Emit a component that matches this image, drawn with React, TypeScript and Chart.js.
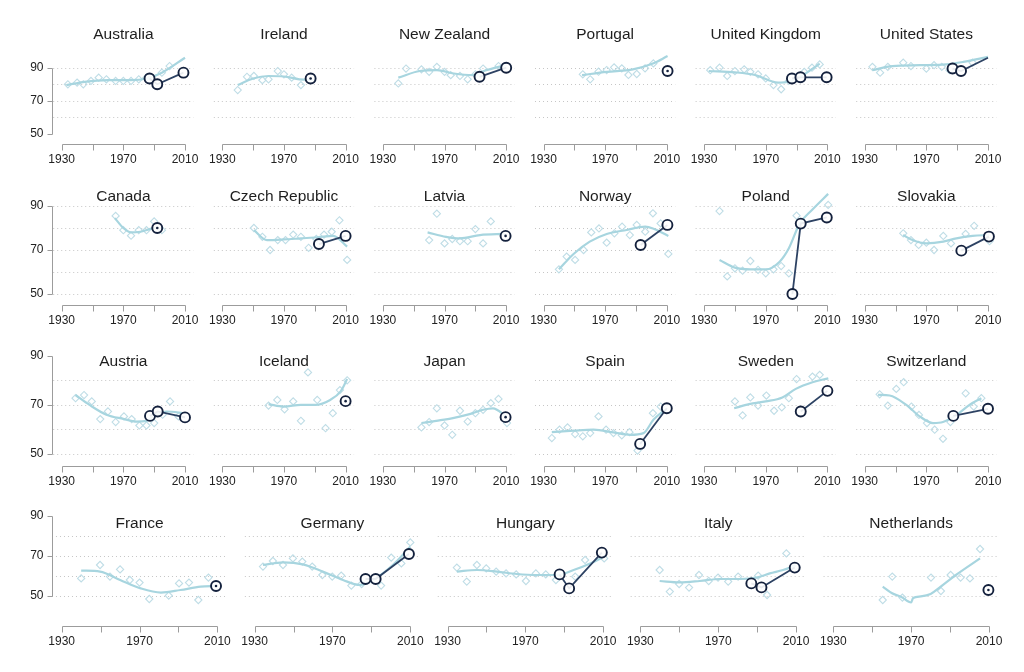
import React, { useEffect, useRef } from "react";
import { Chart, registerables } from "chart.js";
Chart.register(...registerables);

type P = [number, number];

const COUNTRIES: string[] = [
  "Australia", "Ireland", "New Zealand", "Portugal", "United Kingdom", "United States",
  "Canada", "Czech Republic", "Latvia", "Norway", "Poland", "Slovakia",
  "Austria", "Iceland", "Japan", "Spain", "Sweden", "Switzerland",
  "France", "Germany", "Hungary", "Italy", "Netherlands",
];

const ROW_SIZES = [6, 6, 6, 5];
const X_TICKS = [1930, 1950, 1970, 1990, 2010];
const X_LABELS = [1930, 1970, 2010];
const Y_TICKS = [50, 70, 90];
const GRID_ROWS: number[][] = [
  [60, 70, 80, 90],
  [50, 60, 70, 80, 90],
  [50, 60, 70, 80],
  [50, 60, 70, 80],
];

// observed yearly scores (hollow diamonds)
const DIAMONDS: P[][] = [
  [[1934, 80], [1940, 81], [1944, 80], [1949, 82], [1954, 84], [1959, 83], [1965, 82], [1970, 82], [1975, 82], [1980, 83], [1985, 84], [1995, 87], [2000, 91], [2005, 94], [2010, 97]],
  [[1940, 76.5], [1946, 84.5], [1950.5, 85], [1956, 82.5], [1960, 83], [1966, 88], [1970, 86], [1975, 84], [1981, 79.5]],
  [[1940, 80.5], [1945, 89.5], [1955, 89], [1960, 87.5], [1965, 90.5], [1970, 87.5], [1974, 85.5], [1980, 85], [1985, 83], [1990, 86], [1995, 89.5], [2000, 95.5], [2005, 91]],
  [[1955.5, 86], [1960.3, 83], [1965.7, 87.6], [1971, 88.6], [1975.8, 90.2], [1980.8, 89.6], [1985.1, 85.6], [1990.5, 86.2], [1995.9, 89.6], [2001.3, 92.6], [2006.8, 95], [2010.5, 97.6]],
  [[1934, 88.5], [1940, 90], [1945, 85], [1950, 88], [1956, 89], [1960, 87.5], [1965, 86], [1970, 83.5], [1975, 79.5], [1980, 77], [1985, 82], [1995, 87.5], [2000, 90], [2005, 92]],
  [[1935, 90.5], [1940, 87], [1945, 90.5], [1950, 93.5], [1955, 93], [1960, 91], [1965, 93.5], [1970, 89.5], [1975, 91.5], [1980, 90.5], [1985, 88.5], [1995, 95], [2000, 93], [2005, 95]],
  [[1965, 85.5], [1970, 79], [1975, 76.5], [1980, 79], [1985, 79], [1990, 83], [1995, 79]],
  [[1950.5, 80], [1956, 76], [1961, 70], [1966, 74.5], [1971, 74.5], [1976, 77], [1981, 76], [1986, 71], [1991, 75], [1996, 77], [2001, 78.3], [2006, 83.5], [2011, 65.5]],
  [[1960, 74.5], [1965, 86.5], [1970, 73], [1975, 75], [1980, 74], [1985, 74], [1990, 79.5], [1995, 73], [2000, 83]],
  [[1940, 61.2], [1945, 67], [1950.5, 65.5], [1956, 70], [1961, 78], [1966, 79.8], [1971, 73.3], [1976, 77.6], [1981, 80.6], [1986, 76.8], [1990.5, 81.4], [1996, 78.3], [2001, 86.7], [2006, 82.1], [2011, 68.2]],
  [[1940, 87.7], [1945, 58], [1950, 61.7], [1955, 60.6], [1960, 65], [1965, 61], [1970, 59.4], [1975, 61.2], [1980, 62.7], [1985, 59.4], [1990, 85.6], [2005, 92.4], [2010.5, 90.5]],
  [[1955, 77.6], [1960, 74.5], [1965, 72.3], [1970, 73.3], [1975, 70], [1981, 76.4], [1986, 73], [1995.5, 77.3], [2001, 81], [2011, 74]],
  [[1939, 72.7], [1944.5, 74], [1949.5, 71.4], [1955, 64.2], [1960, 67.3], [1965, 63], [1970.4, 65.3], [1975.4, 64.2], [1980.4, 61.6], [1985, 61.6], [1990, 62.6], [1995.5, 66], [2000.3, 71.4], [2005.7, 65.3]],
  [[1960, 69.7], [1965.7, 72], [1970.4, 68.2], [1976, 71.4], [1981, 63.5], [1985.6, 83.2], [1991.6, 72], [1997, 60.5], [2001.7, 66.6], [2006.3, 76], [2011, 80]],
  [[1955, 60.8], [1960, 63], [1965, 68.6], [1970, 61.6], [1975, 57.8], [1980, 67.6], [1985, 63.2], [1990, 66.6], [1995, 68], [2000, 70.7], [2005, 72.4], [2010.5, 62.6]],
  [[1935.4, 56.5], [1940.4, 59.9], [1945.6, 60.8], [1950.5, 58.1], [1955.5, 57.2], [1960.3, 58.5], [1965.7, 65.3], [1970.6, 59.9], [1975.4, 58.5], [1980.8, 57.6], [1985.8, 58.9], [1991, 51.4], [2001, 66.6], [2006, 69.3]],
  [[1950, 71.4], [1955, 65.7], [1960, 73], [1965, 69.7], [1970.4, 73.8], [1975.4, 67.6], [1980.4, 69], [1985, 72.7], [1990, 80.5], [2000.3, 81.5], [2005, 82.2]],
  [[1939.7, 74.3], [1945, 69.7], [1950.5, 76.5], [1955.3, 79.2], [1960.3, 69.3], [1965.2, 65.9], [1970.4, 62.6], [1975.4, 59.9], [1980.8, 56.2], [1985.6, 63], [1995.5, 74.7], [2000.7, 69.3], [2005.7, 72.7]],
  [[1940, 58.8], [1949.7, 65.5], [1954.8, 59.7], [1960, 63.3], [1965, 58], [1970, 56.7], [1975, 48.5], [1980, 47.2], [1985, 50.2], [1990.3, 56.3], [1995.4, 56.7], [2000.2, 48], [2005.4, 59.2]],
  [[1934.3, 64.7], [1939.4, 67.5], [1944.6, 65.5], [1949.7, 68.8], [1954.5, 67.2], [1959.6, 64.7], [1964.8, 60.5], [1969.9, 59.7], [1974.5, 60.2], [1979.7, 55.2], [1985, 56], [1995, 55.2], [2000.2, 69.2], [2005.4, 66.3], [2010, 76.8]],
  [[1934.8, 64.2], [1939.9, 57.2], [1945.1, 65.5], [1949.9, 63.8], [1955, 62.2], [1960.1, 61.3], [1965.3, 60.8], [1970.3, 57.5], [1975.4, 61.3], [1980.5, 60.8], [1985.7, 58], [1995.6, 59.7], [2000.7, 68], [2010.5, 68.8]],
  [[1939.9, 63], [1945.1, 52.2], [1949.9, 56], [1955, 54.2], [1960.1, 60.5], [1965.1, 57.5], [1969.9, 59.2], [1975.1, 57.2], [1980.2, 59.7], [1990.5, 60.2], [1995.1, 50.5], [2005, 71.3], [2009.8, 64.7]],
  [[1955.4, 48], [1960.3, 59.7], [1965.5, 49.2], [1970.3, 40.5], [1975.4, 40.5], [1980.2, 59.2], [1985.3, 52.5], [1990.3, 60.5], [1995.4, 59.2], [2000.2, 58.8], [2005.4, 73.5]],
];

// smoothed trend (light line)
const LOESS: P[][] = [
  [[1933, 79.5], [1945, 81.5], [1960, 82.5], [1975, 82.5], [1985, 83.5], [1995, 87], [2010, 96]],
  [[1940, 79.5], [1950, 83.5], [1960, 85], [1970, 84.7], [1980, 83], [1990, 82.5]],
  [[1940, 84], [1954, 88], [1965, 88.5], [1976, 86.5], [1988, 85.5], [1997, 88.5], [2009, 91.5]],
  [[1955, 85.5], [1971, 87.5], [1988, 89], [2001, 92.5], [2010.5, 97]],
  [[1933, 88], [1950, 87.2], [1963, 85.6], [1978, 81], [1985, 81.5], [1994, 85.5], [2005, 92.5]],
  [[1935, 88.5], [1948, 91], [1966, 91.5], [1983, 92], [1994, 93.5], [2010, 96.5]],
  [[1964.5, 84.5], [1970, 80], [1975, 78], [1981, 78.3], [1987, 79.5], [1993, 80.5]],
  [[1950.5, 79], [1959, 74.5], [1970, 74.8], [1981, 75.3], [1992, 75.8], [2002, 76.4], [2011, 71.5]],
  [[1959, 78], [1971, 76], [1980, 75.3], [1993, 76.8], [2009, 77.3]],
  [[1940, 61.2], [1949.5, 68.2], [1960, 73.8], [1971, 77.3], [1984, 79.1], [1996, 80.6], [2001, 79.8], [2011, 76.4]],
  [[1940, 65.5], [1950, 62], [1960, 61.2], [1970, 61.2], [1979, 64.7], [1985, 70.8], [1992, 82], [2000, 88.2], [2010.5, 95.5]],
  [[1955, 76.8], [1961, 74.5], [1970, 73], [1981, 73.8], [1989.5, 75.3], [2000, 76.4], [2010.6, 76.8]],
  [[1939, 74], [1948, 70], [1959, 66], [1970, 64.3], [1978.6, 63.2], [1985, 63.5], [1991.6, 66.2], [1998, 67.3], [2010, 66.6]],
  [[1960, 70.3], [1970, 69.3], [1981, 70], [1990.5, 70], [2000, 72], [2006.8, 75.5], [2011, 80.5]],
  [[1955, 62.6], [1964.6, 63.5], [1975.4, 64.6], [1985, 66], [1995, 68], [2001.4, 68.6], [2010, 65.3]],
  [[1935.4, 58.9], [1949.5, 59.5], [1962.4, 59.9], [1975.4, 58.8], [1986.2, 57.8], [1994.9, 58.5], [2001.3, 63.9], [2010, 68.6]],
  [[1949.5, 68.6], [1959.2, 70.3], [1970, 71.4], [1980.8, 73], [1989.5, 76.5], [2000.3, 79.2], [2010.6, 80.8]],
  [[1938.6, 74.1], [1946.2, 73.8], [1957, 70], [1965.7, 65.3], [1974.3, 62.6], [1980.8, 63], [1989.5, 65.9], [1998, 70], [2005.7, 72.7]],
  [[1940, 62.7], [1949.7, 62.2], [1960, 58], [1970.6, 53.8], [1981, 51.7], [1991, 53], [2001.4, 54.7], [2009.3, 55]],
  [[1934.3, 65.5], [1944.6, 66.8], [1954.8, 65.8], [1965, 62.2], [1975.4, 58], [1984, 55.5], [1990.8, 58], [2001, 65.5], [2010, 74.7]],
  [[1934.8, 62.2], [1945.1, 63], [1955.4, 62.2], [1965.6, 61], [1975.9, 60.5], [1986.2, 60.5], [1994.8, 63], [2003.3, 66.3], [2010.5, 69.7]],
  [[1939.9, 57.5], [1950.2, 56.8], [1960.5, 57.5], [1970.8, 58.5], [1981, 58.5], [1989.6, 59.2], [1996.5, 61.3], [2003.3, 63], [2009.8, 65.2]],
  [[1955.4, 54.7], [1960, 51.5], [1965, 49.5], [1970, 46.8], [1971, 49], [1975, 49.8], [1980, 51], [1985, 54.5], [1993, 60.5], [2005.4, 68.8]],
];

// survey estimates (dark circles)
const CIRCLES: P[][] = [
  [[1987, 83.5], [1992, 80], [2009, 87]],
  [[1987.3, 83.5]],
  [[1992.7, 84.5], [2010, 90]],
  [[2010.5, 88]],
  [[1987, 83.5], [1992.5, 84.2], [2009.5, 84.2]],
  [[1987, 89.5], [1992.5, 88], [2010, 96]],
  [[1992, 80]],
  [[1992.7, 72.7], [2010, 76.4]],
  [[2009.6, 76.4]],
  [[1993, 72.3], [2010.4, 81.4]],
  [[1987.3, 50], [1992.7, 82], [2009.6, 84.8]],
  [[1992.7, 69.7], [2010.6, 76.1]],
  [[1987.3, 65.5], [1992.3, 67.3], [2010, 64.9]],
  [[2010, 71.5]],
  [[2009.6, 65]],
  [[1992.7, 54.1], [2010, 68.6]],
  [[1992.7, 67.3], [2010, 75.7]],
  [[1987.5, 65.5], [2010, 68.4]],
  [[2009.3, 55]],
  [[1987, 58.5], [1992.2, 58.5], [2009.3, 71]],
  [[1987.6, 60.8], [1992.5, 53.8], [2009.3, 71.7]],
  [[1987, 56.3], [1992.2, 54.3], [2009.3, 64.2]],
  [[2009.7, 53]],
];

// page geometry of each row of panels
const ROWS = [
  { y90: 67.7, y50: 134, axisY: 144, titleY: 35, x0: 61.7, step: 160.6, w: 123.3, ext: 5.5 },
  { y90: 206, y50: 294, axisY: 305, titleY: 197, x0: 61.7, step: 160.6, w: 123.3, ext: 5.5 },
  { y90: 355.7, y50: 454, axisY: 466, titleY: 362, x0: 61.7, step: 160.6, w: 123.3, ext: 5.5 },
  { y90: 516, y50: 596, axisY: 626, titleY: 524, x0: 61.7, step: 192.9, w: 155.7, ext: 5 },
];

const FONT = "'Liberation Sans', Arial, Helvetica, sans-serif";

const panelPlugin = {
  id: "panel",
  beforeDatasetsDraw(chart: any, _a: any, opts: any) {
    const { ctx } = chart;
    const x = chart.scales.x, y = chart.scales.y;
    ctx.save();
    ctx.strokeStyle = "#c6c6c6";
    ctx.lineWidth = 1;
    ctx.setLineDash([1, 3]);
    const xa = x.getPixelForValue(1930 - opts.ext);
    const xb = x.getPixelForValue(2010 + opts.ext);
    for (const v of opts.grid) {
      const py = Math.round(y.getPixelForValue(v)) + 0.5;
      ctx.beginPath();
      ctx.moveTo(xa, py);
      ctx.lineTo(xb, py);
      ctx.stroke();
    }
    ctx.restore();
  },
  afterDraw(chart: any, _a: any, opts: any) {
    const { ctx } = chart;
    const x = chart.scales.x, y = chart.scales.y;
    ctx.save();
    ctx.strokeStyle = "#9c9c9c";
    ctx.lineWidth = 1;
    // x axis: line with ticks pointing down
    const ay = Math.round(opts.axisY) + 0.5;
    const x1 = x.getPixelForValue(X_TICKS[0]);
    const x2 = x.getPixelForValue(X_TICKS[X_TICKS.length - 1]);
    ctx.beginPath();
    ctx.moveTo(Math.round(x1) + 0.5, ay);
    ctx.lineTo(Math.round(x2) + 0.5, ay);
    for (const t of X_TICKS) {
      const px = Math.round(x.getPixelForValue(t)) + 0.5;
      ctx.moveTo(px, ay);
      ctx.lineTo(px, ay + 6);
    }
    ctx.stroke();
    ctx.fillStyle = "#222";
    ctx.font = `12px ${FONT}`;
    ctx.textAlign = "center";
    ctx.textBaseline = "middle";
    for (const t of X_LABELS) {
      ctx.fillText(String(t), x.getPixelForValue(t), ay + 15);
    }
    // y axis (first column only)
    if (opts.showY) {
      const sx = Math.round(x.getPixelForValue(1930)) - 9.5;
      ctx.beginPath();
      ctx.moveTo(sx, Math.round(y.getPixelForValue(Y_TICKS[0])) + 0.5);
      ctx.lineTo(sx, Math.round(y.getPixelForValue(Y_TICKS[Y_TICKS.length - 1])) + 0.5);
      for (const t of Y_TICKS) {
        const py = Math.round(y.getPixelForValue(t)) + 0.5;
        ctx.moveTo(sx, py);
        ctx.lineTo(sx - 5, py);
      }
      ctx.stroke();
      ctx.textAlign = "right";
      for (const t of Y_TICKS) {
        ctx.fillText(String(t), sx - 9, y.getPixelForValue(t));
      }
    }
    // title
    ctx.font = `15.5px ${FONT}`;
    ctx.textAlign = "center";
    ctx.fillStyle = "#1e1e1e";
    ctx.fillText(opts.title, (x1 + x2) / 2, opts.titleY);
    ctx.restore();
  },
};

function Panel({ idx, row, col }: { idx: number; row: number; col: number }) {
  const ref = useRef<HTMLCanvasElement>(null);
  const g = ROWS[row];
  const x1930 = g.x0 + g.step * col;
  const left = Math.floor(x1930) - 60;
  const top = Math.floor(g.titleY) - 25;
  const padL = x1930 - left;
  const padT = g.y90 - top;
  const width = Math.ceil(padL + g.w + 45);
  const height = Math.ceil(g.axisY + 30 - top);
  const padR = width - padL - g.w;
  const padB = height - padT - (g.y50 - g.y90);

  useEffect(() => {
    const toXY = (arr: P[]) => arr.map(([a, b]) => ({ x: a, y: b }));
    const circles = CIRCLES[idx];
    const datasets: any[] = [];
    if (circles.length === 1) {
      datasets.push({
        data: toXY(circles),
        showLine: false,
        pointRadius: 1.3,
        pointBackgroundColor: "#14213d",
        pointBorderWidth: 0,
        clip: false,
      });
    }
    datasets.push({
      data: toXY(circles),
      borderColor: "#2d4263",
      borderWidth: 1.8,
      tension: 0,
      pointRadius: 5,
      pointBorderWidth: 1.9,
      pointBorderColor: "#14213d",
      pointBackgroundColor: "rgba(255,255,255,0.9)",
      clip: false,
    });
    datasets.push({
      data: toXY(LOESS[idx]),
      borderColor: "#a7d5df",
      borderWidth: 2.2,
      pointRadius: 0,
      cubicInterpolationMode: "monotone",
      clip: false,
    });
    datasets.push({
      data: toXY(DIAMONDS[idx]),
      showLine: false,
      pointStyle: "rectRot",
      pointRadius: 3.6,
      pointBorderWidth: 1.1,
      pointBorderColor: "#bfdde6",
      pointBackgroundColor: "rgba(255,255,255,0)",
      clip: false,
    });
    const chart = new Chart(ref.current as HTMLCanvasElement, {
      type: "line",
      data: { datasets },
      options: {
        responsive: false,
        animation: false,
        events: [],
        layout: { padding: { left: padL, right: padR, top: padT, bottom: padB } },
        scales: {
          x: { type: "linear", min: 1930, max: 2010, display: false },
          y: { type: "linear", min: 50, max: 90, display: false },
        },
        plugins: {
          legend: { display: false },
          tooltip: { enabled: false },
          panel: {
            title: COUNTRIES[idx],
            grid: GRID_ROWS[row],
            ext: g.ext,
            axisY: g.axisY - top,
            titleY: g.titleY - top,
            showY: col === 0,
          },
        } as any,
      },
      plugins: [panelPlugin as any],
    });
    return () => chart.destroy();
  }, []);

  return (
    <canvas
      ref={ref}
      width={width}
      height={height}
      style={{ position: "absolute", left, top, width, height }}
    />
  );
}

export default function App() {
  const panels: { idx: number; row: number; col: number }[] = [];
  let idx = 0;
  ROW_SIZES.forEach((n, row) => {
    for (let col = 0; col < n; col++) panels.push({ idx: idx++, row, col });
  });
  return (
    <div style={{ position: "absolute", left: 0, top: 0, width: 1024, height: 672, background: "#fff", overflow: "hidden" }}>
      {panels.map((p) => (
        <Panel key={p.idx} {...p} />
      ))}
    </div>
  );
}
